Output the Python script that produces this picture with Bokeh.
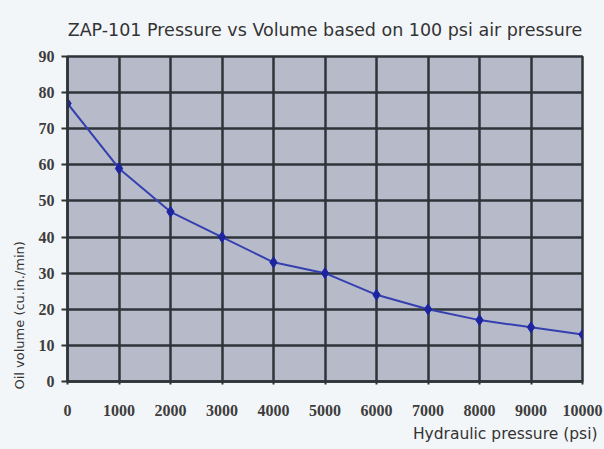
from bokeh.plotting import figure
from bokeh.models import Range1d, FixedTicker, Title
from bokeh.embed import file_html
from bokeh.resources import INLINE

title_text = "ZAP-101 Pressure vs Volume based on 100 psi air pressure"
x_label = "Hydraulic pressure (psi)"
y_label = "Oil volume (cu.in./min)"

pressure = [0, 1000, 2000, 3000, 4000, 5000, 6000, 7000, 8000, 9000, 10000]
volume = [77, 59, 47, 40, 33, 30, 24, 20, 17, 15, 13]

x_ticks = [0, 1000, 2000, 3000, 4000, 5000, 6000, 7000, 8000, 9000, 10000]
y_ticks = [0, 10, 20, 30, 40, 50, 60, 70, 80, 90]

bg = "#f3f6f9"
grid_c = "#2d3538"

p = figure(width=604, height=449, output_backend="svg", toolbar_location=None,
           x_range=Range1d(0, 10000), y_range=Range1d(0, 90),
           min_border_left=67, min_border_right=22, min_border_top=56, min_border_bottom=68)

p.background_fill_color = "#b6bac9"
p.border_fill_color = bg
p.outline_line_color = grid_c
p.outline_line_width = 2.5

p.title.text = title_text
p.title.align = "center"
p.title.text_font = "DejaVu Sans"
p.title.text_font_size = "17.5px"
p.title.text_font_style = "normal"
p.title.text_color = "#333333"
p.title.standoff = 34

p.add_layout(Title(text=y_label, align="left", text_font="DejaVu Sans",
                   text_font_size="13px", text_font_style="normal",
                   text_color="#333333", standoff=18, offset=-8), "left")
p.add_layout(Title(text=x_label, align="right", text_font="DejaVu Sans",
                   text_font_size="15.5px", text_font_style="normal",
                   text_color="#333333", standoff=9, offset=-15), "below")

for ax in (p.xaxis[0], p.yaxis[0]):
    ax.major_label_text_font = "Liberation Serif"
    ax.major_label_text_font_style = "bold"
    ax.major_label_text_font_size = "16px"
    ax.major_label_text_color = "#3d3d3d"
    ax.axis_line_color = grid_c
    ax.axis_line_width = 2.5
    ax.major_tick_line_color = grid_c
    ax.major_tick_line_width = 2
    ax.minor_tick_line_color = None
    ax.major_tick_in = 0

p.xaxis[0].ticker = FixedTicker(ticks=x_ticks)
p.yaxis[0].ticker = FixedTicker(ticks=y_ticks)
p.xaxis[0].major_tick_out = 3
p.xaxis[0].major_label_standoff = 20
p.yaxis[0].major_tick_out = 6
p.yaxis[0].major_label_standoff = 7

for g in (p.xgrid[0], p.ygrid[0]):
    g.grid_line_color = grid_c
    g.grid_line_width = 2.5
    g.grid_line_alpha = 1.0

p.line(pressure, volume, line_color="#3540b0", line_width=2)
p.scatter(pressure, volume, marker="diamond", size=11, fill_color="#1e24a0",
          line_color="#1e24a0")

html = file_html(p, INLINE)
html = html.replace("<body>", '<body style="background:%s">' % bg)
open("out.html", "w").write(html)
